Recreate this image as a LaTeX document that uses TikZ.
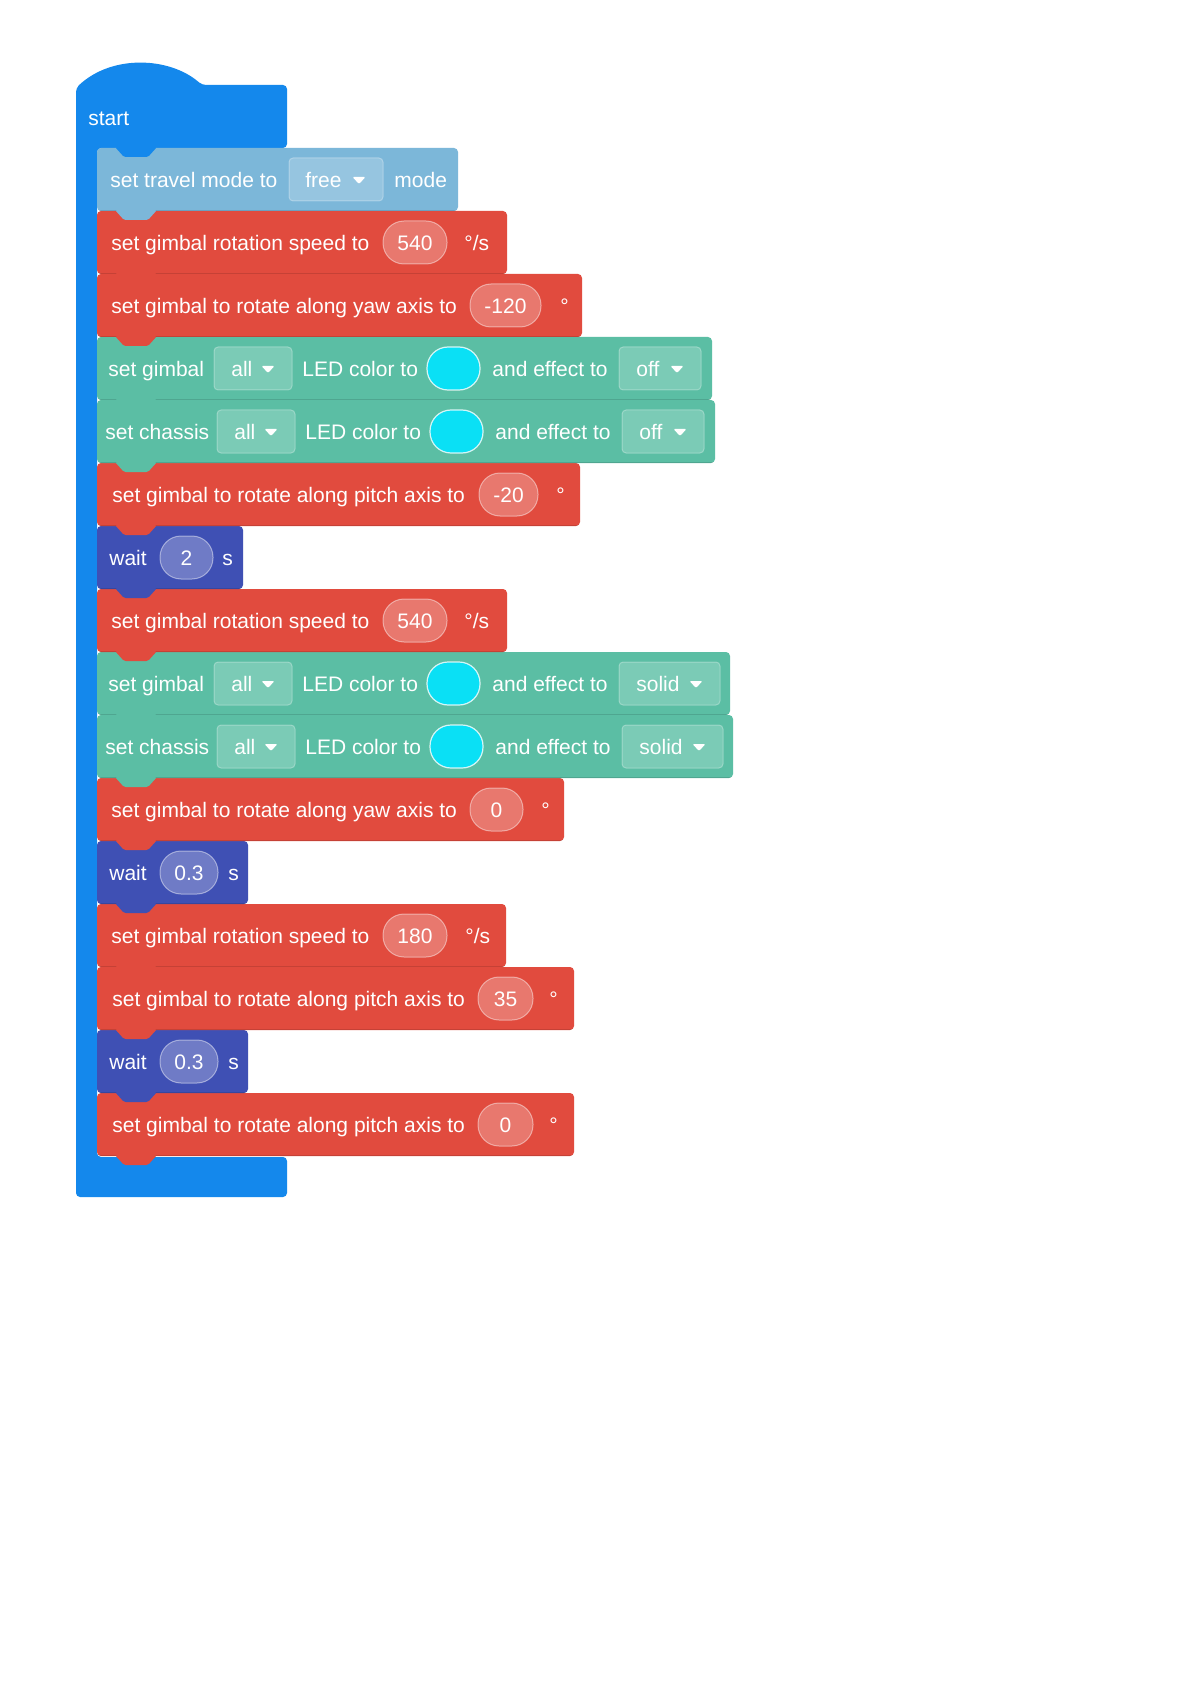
\documentclass[tikz,border=0pt]{standalone}
\usepackage{fontspec}
\setmainfont{Liberation Sans}
\definecolor{rmstart}{RGB}{20,136,236}
\definecolor{rmtravel}{RGB}{124,183,217}
\definecolor{rmred}{RGB}{225,75,62}
\definecolor{rmteal}{RGB}{91,190,164}
\definecolor{rmind}{RGB}{63,80,180}
\definecolor{rmcyan}{RGB}{10,224,245}
\newcommand{\rmblock}[3]{%
  \pgfmathsetmacro{\bt}{148+63*(#2-1)}%
  \pgfmathsetmacro{\bb}{\bt+63}%
  \fill[#1, rounded corners=2pt] (97,\bt) rectangle (#3,\bb);
  \draw[black, opacity=0.12, line width=0.6pt] (99,\bb-0.5) -- (#3-2,\bb-0.5);
  \fill[#1, rounded corners=0.8pt] (115,\bb-1) -- (124,\bb+9) -- (148,\bb+9) -- (157,\bb-1) -- cycle;
}
\newcommand{\rmoval}[5]{%
  \fill[white, fill opacity=0.25, rounded corners=10.5pt] (#2,#4-21.5) rectangle (#3,#4+21.5);
  \draw[white, opacity=0.45, line width=0.5pt, rounded corners=10.5pt] (#2,#4-21.5) rectangle (#3,#4+21.5);
  \node[txt, anchor=base] (#1) at ({(#2+#3)/2},#4+8) {#5};
}
\newcommand{\rmdrop}[7]{%
  \fill[white, fill opacity=0.2, rounded corners=2pt] (#2,#6-21.5) rectangle (#3,#6+21.5);
  \draw[white, opacity=0.3, line width=0.5pt, rounded corners=2pt] (#2,#6-21.5) rectangle (#3,#6+21.5);
  \node[txt] (#1) at (#4,#6+8) {#7};
  \fill[white, rounded corners=0.6pt] (#5-6.5,#6-2.5) -- (#5+6.5,#6-2.5) -- (#5,#6+4.5) -- cycle;
}
\newcommand{\rmled}[3]{%
  \fill[rmcyan, rounded corners=10.5pt] (#1,#3-21.5) rectangle (#2,#3+21.5);
  \draw[white, opacity=0.8, line width=0.6pt, rounded corners=10.5pt] (#1,#3-21.5) rectangle (#2,#3+21.5);
}
\begin{document}
\begin{tikzpicture}[x=0.5pt,y=-0.5pt,
  txt/.style={anchor=base west, inner sep=0pt, text=white, font=\fontsize{10.5pt}{12pt}\selectfont}]
\useasboundingbox (0,0) rectangle (1191,1684);
\fill[white] (0,0) rectangle (1191,1684);
% start C block
\fill[rmstart, rounded corners=2pt] (76,88) .. controls (112,54) and (170,57) .. (202,85) -- (287,85) -- (287,148) -- (97,148) -- (97,1157) -- (287,1157) -- (287,1197) -- (76,1197) -- cycle;
% blocks, bottom to top
\rmblock{rmred}{16}{574}
\rmblock{rmind}{15}{248}
\rmblock{rmred}{14}{574}
\rmblock{rmred}{13}{506}
\rmblock{rmind}{12}{248}
\rmblock{rmred}{11}{564}
\rmblock{rmteal}{10}{733}
\rmblock{rmteal}{9}{730}
\rmblock{rmred}{8}{507}
\rmblock{rmind}{7}{243}
\rmblock{rmred}{6}{580}
\rmblock{rmteal}{5}{715}
\rmblock{rmteal}{4}{712}
\rmblock{rmred}{3}{582}
\rmblock{rmred}{2}{507}
\rmblock{rmtravel}{1}{458}
\fill[rmstart, rounded corners=0.8pt] (115,147) -- (124,157) -- (148,157) -- (157,147) -- cycle;
\node[txt] (start) at (88,126) {start};
% 1
\node[txt] (b1a) at (110,187.5) {set travel mode to};
\rmdrop{b1d}{289}{383}{305}{359}{179.5}{free}
\node[txt] (b1b) at (394,187.5) {mode};
% 2
\node[txt] (b2a) at (111,250.5) {set gimbal rotation speed to};
\rmoval{b2o}{383}{447}{242.5}{540}
\node[txt] (b2b) at (464,250.5) {°/s};
% 3
\node[txt] (b3a) at (111,313.5) {set gimbal to rotate along yaw axis to};
\rmoval{b3o}{470}{541}{305.5}{-120}
\node[txt] (b3b) at (560,313.5) {°};
% 4
\node[txt] (b4a) at (108,376.5) {set gimbal};
\rmdrop{b4d}{214}{292}{231}{268}{368.5}{all}
\node[txt] (b4b) at (302,376.5) {LED color to};
\rmled{427}{480}{368.5}
\node[txt] (b4c) at (492,376.5) {and effect to};
\rmdrop{b4e}{619}{701}{636}{677}{368.5}{off}
% 5
\node[txt] (b5a) at (105,439.5) {set chassis};
\rmdrop{b5d}{217}{295}{234}{271}{431.5}{all}
\node[txt] (b5b) at (305,439.5) {LED color to};
\rmled{430}{483}{431.5}
\node[txt] (b5c) at (495,439.5) {and effect to};
\rmdrop{b5e}{622}{704}{639}{680}{431.5}{off}
% 6
\node[txt] (b6a) at (112,502.5) {set gimbal to rotate along pitch axis to};
\rmoval{b6o}{479}{538}{494.5}{-20}
\node[txt] (b6b) at (556,502.5) {°};
% 7
\node[txt] (b7a) at (109,565.5) {wait};
\rmoval{b7o}{160}{213}{557.5}{2}
\node[txt] (b7b) at (222,565.5) {s};
% 8
\node[txt] (b8a) at (111,628.5) {set gimbal rotation speed to};
\rmoval{b8o}{383}{447}{620.5}{540}
\node[txt] (b8b) at (464,628.5) {°/s};
% 9
\node[txt] (b9a) at (108,691.5) {set gimbal};
\rmdrop{b9d}{214}{292}{231}{268}{683.5}{all}
\node[txt] (b9b) at (302,691.5) {LED color to};
\rmled{427}{480}{683.5}
\node[txt] (b9c) at (492,691.5) {and effect to};
\rmdrop{b9e}{619}{720}{636}{696}{683.5}{solid}
% 10
\node[txt] (b10a) at (105,754.5) {set chassis};
\rmdrop{b10d}{217}{295}{234}{271}{746.5}{all}
\node[txt] (b10b) at (305,754.5) {LED color to};
\rmled{430}{483}{746.5}
\node[txt] (b10c) at (495,754.5) {and effect to};
\rmdrop{b10e}{622}{723}{639}{699}{746.5}{solid}
% 11
\node[txt] (b11a) at (111,817.5) {set gimbal to rotate along yaw axis to};
\rmoval{b11o}{470}{523}{809.5}{0}
\node[txt] (b11b) at (541,817.5) {°};
% 12
\node[txt] (b12a) at (109,880.5) {wait};
\rmoval{b12o}{160}{218}{872.5}{0.3}
\node[txt] (b12b) at (228,880.5) {s};
% 13
\node[txt] (b13a) at (111,943.5) {set gimbal rotation speed to};
\rmoval{b13o}{383}{447}{935.5}{180}
\node[txt] (b13b) at (465,943.5) {°/s};
% 14
\node[txt] (b14a) at (112,1006.5) {set gimbal to rotate along pitch axis to};
\rmoval{b14o}{478}{533}{998.5}{35}
\node[txt] (b14b) at (549,1006.5) {°};
% 15
\node[txt] (b15a) at (109,1069.5) {wait};
\rmoval{b15o}{160}{218}{1061.5}{0.3}
\node[txt] (b15b) at (228,1069.5) {s};
% 16
\node[txt] (b16a) at (112,1132.5) {set gimbal to rotate along pitch axis to};
\rmoval{b16o}{478}{533}{1124.5}{0}
\node[txt] (b16b) at (549,1132.5) {°};
\end{tikzpicture}
\end{document}
